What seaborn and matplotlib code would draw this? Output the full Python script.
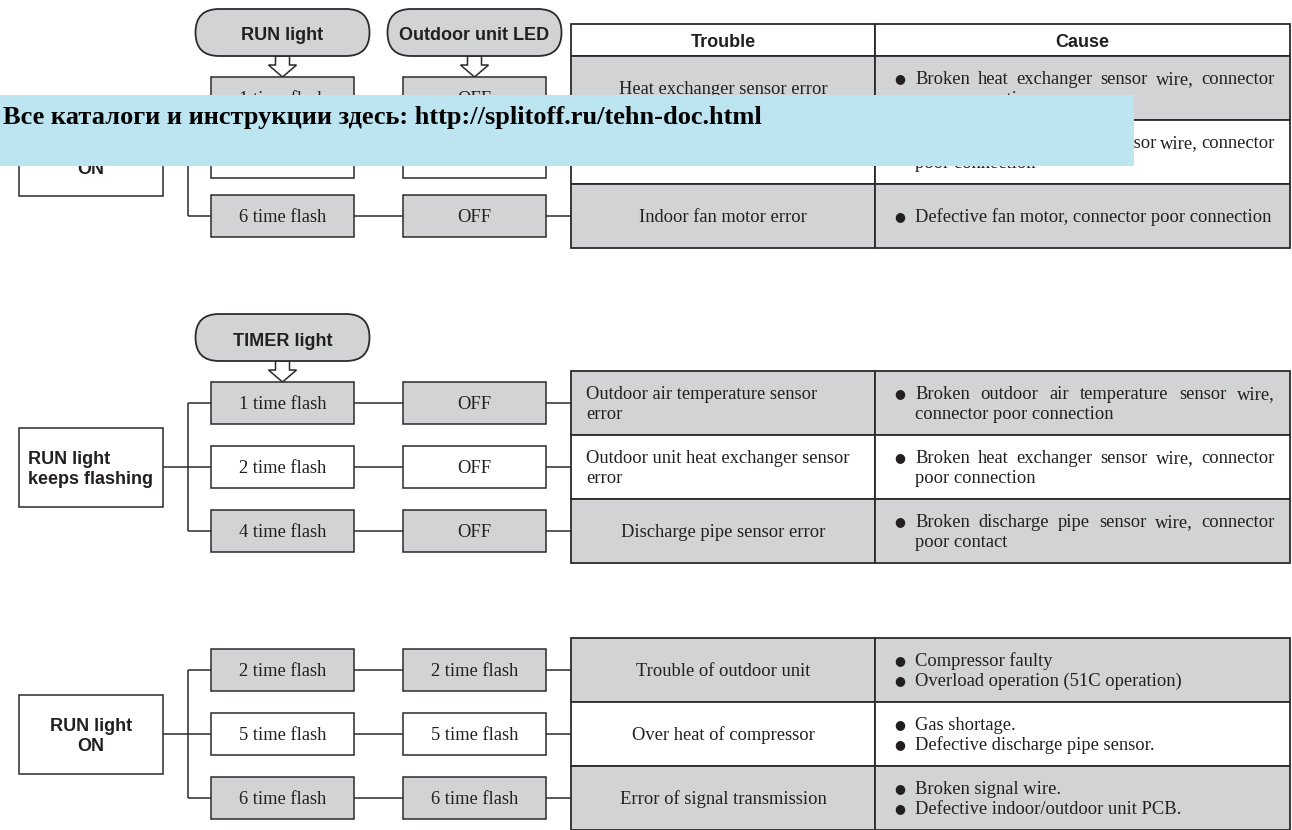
import matplotlib
matplotlib.use('Agg')
import matplotlib.pyplot as plt
from matplotlib.patches import Rectangle, FancyBboxPatch, Polygon
import seaborn as sns

sns.set_theme(style='white')
plt.rcParams['font.family'] = ['Liberation Serif', 'DejaVu Sans']

# ---- data ----
group_labels = ['RUN light\nON', 'RUN light\nkeeps flashing', 'RUN light\nON']
group_align = ['center', 'left', 'center']
pill_labels = [['RUN light', 'Outdoor unit LED'], ['TIMER light'], []]
col1_labels = [
    ['1 time flash', '2 time flash', '6 time flash'],
    ['1 time flash', '2 time flash', '4 time flash'],
    ['2 time flash', '5 time flash', '6 time flash'],
]
col2_labels = [
    ['OFF', 'OFF', 'OFF'],
    ['OFF', 'OFF', 'OFF'],
    ['2 time flash', '5 time flash', '6 time flash'],
]
header_labels = ['Trouble', 'Cause']
trouble_labels = [
    ['Heat exchanger sensor error', 'Room temperature sensor error', 'Indoor fan motor error'],
    ['Outdoor air temperature sensor\nerror', 'Outdoor unit heat exchanger sensor\nerror',
     'Discharge pipe sensor error'],
    ['Trouble of outdoor unit', 'Over heat of compressor', 'Error of signal transmission'],
]
trouble_align = [['center'] * 3, ['left', 'left', 'center'], ['center'] * 3]
cause_labels = [
    [[['Broken heat exchanger sensor wire, connector', 'poor connection']],
     [['Broken room temperature sensor wire, connector', 'poor connection']],
     [['Defective fan motor, connector poor connection']]],
    [[['Broken outdoor air temperature sensor wire,', 'connector poor connection']],
     [['Broken heat exchanger sensor wire, connector', 'poor connection']],
     [['Broken discharge pipe sensor wire, connector', 'poor contact']]],
    [[['Compressor faulty'], ['Overload operation (51C operation)']],
     [['Gas shortage.'], ['Defective discharge pipe sensor.']],
     [['Broken signal wire.'], ['Defective indoor/outdoor unit PCB.']]],
]
banner_text = 'Все каталоги и инструкции здесь: http://splitoff.ru/tehn-doc.html'

# ---- layout (pixels) ----
GRAY = '#d1d3d4'
EDGE = '#2b2b2b'
INK = '#231f20'
BANNER = '#bce4f1'
LW = 1.1
SERIF = 13.3
SANS = 13
SANS_FAM = ['Liberation Sans', 'DejaVu Sans']

box_rows = [[98, 157, 216], [403, 467, 531], [670, 734, 798]]
table_top = [56, 371, 638]
row_h = 64
header_top = 24
box_x = [211, 403]
box_w, box_h = 143, 42
left_x, left_w, left_h = 19, 144, 79
tree_x = 188
tab_x0, tab_xc, tab_x1 = 571, 875, 1290
pill_w, pill_h = 174, 47

fig = plt.figure(figsize=(12.92, 8.30), dpi=100)
ax = fig.add_axes([0, 0, 1, 1])
ax.set_xlim(0, 1292)
ax.set_ylim(830, 0)
ax.axis('off')
renderer = fig.canvas.get_renderer()


def rect(x, y, w, h, fc, lw=LW, z=2):
    ax.add_patch(Rectangle((x, y), w, h, facecolor=fc, edgecolor=EDGE, lw=lw, zorder=z))


def line(xs, ys):
    ax.plot(xs, ys, color=EDGE, lw=LW, zorder=1, solid_capstyle='butt')


def put_line(x, yc, s, justify_to=None, ha='left'):
    yb = yc + 6
    if justify_to is None:
        ax.text(x, yb, s, ha=ha, va='baseline', fontsize=SERIF, color=INK, zorder=5)
        return
    words = s.split()
    texts = [ax.text(0, yb, w, ha='left', va='baseline', fontsize=SERIF, color=INK, zorder=5)
             for w in words]
    widths = [t.get_window_extent(renderer).width for t in texts]
    gap = (justify_to - x - sum(widths)) / (len(words) - 1)
    cx = x
    for t, w in zip(texts, widths):
        t.set_x(cx)
        cx += w + gap


for s in range(3):
    rows = box_rows[s]
    fills = [GRAY, 'white', GRAY]

    # pills and arrows
    for k, lab in enumerate(pill_labels[s]):
        cx = box_x[k] + box_w / 2
        top = rows[0] - box_h / 2
        pb = top - 21
        ax.add_patch(FancyBboxPatch((cx - pill_w / 2, pb - pill_h), pill_w, pill_h,
                                    boxstyle='round,pad=0,rounding_size=23.5',
                                    facecolor=GRAY, edgecolor=EDGE, lw=1.3, zorder=3))
        ax.text(cx, pb - pill_h / 2 + 8, lab, ha='center', va='baseline', fontsize=SANS,
                fontweight='bold', family=SANS_FAM, color=INK, zorder=5)
        yh = pb + 9
        ax.add_patch(Polygon([(cx - 7, pb), (cx + 7, pb), (cx + 7, yh), (cx + 14, yh),
                              (cx, top), (cx - 14, yh), (cx - 7, yh)], closed=True,
                             facecolor='white', edgecolor=EDGE, lw=1.1, zorder=2))

    # left group box
    mid = rows[1]
    rect(left_x, mid - left_h / 2, left_w, left_h, 'white')
    gl = group_labels[s].split('\n')
    for j, t in enumerate(gl):
        if group_align[s] == 'center':
            ax.text(left_x + left_w / 2, mid - 10 + 20 * j + 6.5, t, ha='center', va='baseline',
                    fontsize=SANS, fontweight='bold', family=SANS_FAM, color=INK, zorder=5)
        else:
            ax.text(left_x + 9, mid - 10 + 20 * j + 6.5, t, ha='left', va='baseline',
                    fontsize=SANS, fontweight='bold', family=SANS_FAM, color=INK, zorder=5)

    # tree connectors
    line([left_x + left_w, tree_x], [mid, mid])
    line([tree_x, tree_x], [rows[0], rows[2]])
    for r, y in enumerate(rows):
        line([tree_x, box_x[0]], [y, y])
        line([box_x[0] + box_w, box_x[1]], [y, y])
        line([box_x[1] + box_w, tab_x0], [y, y])
        rect(box_x[0], y - box_h / 2, box_w, box_h, fills[r])
        rect(box_x[1], y - box_h / 2, box_w, box_h, fills[r])
        ax.text(box_x[0] + box_w / 2, y + 6, col1_labels[s][r], ha='center', va='baseline',
                fontsize=SERIF, color=INK, zorder=5)
        ax.text(box_x[1] + box_w / 2, y + 6, col2_labels[s][r], ha='center', va='baseline',
                fontsize=SERIF, color=INK, zorder=5)

    # table
    if s == 0:
        rect(tab_x0, header_top, tab_xc - tab_x0, table_top[0] - header_top, 'white', lw=1.3)
        rect(tab_xc, header_top, tab_x1 - tab_xc, table_top[0] - header_top, 'white', lw=1.3)
        hy = (header_top + table_top[0]) / 2 + 7
        for lab, (a, b) in zip(header_labels, [(tab_x0, tab_xc), (tab_xc, tab_x1)]):
            ax.text((a + b) / 2, hy, lab, ha='center', va='baseline', fontsize=SANS,
                    fontweight='bold', family=SANS_FAM, color=INK, zorder=5)
    for r in range(3):
        y0 = table_top[s] + r * row_h
        yc = y0 + row_h / 2
        rect(tab_x0, y0, tab_xc - tab_x0, row_h, fills[r], lw=1.3)
        rect(tab_xc, y0, tab_x1 - tab_xc, row_h, fills[r], lw=1.3)
        tl = trouble_labels[s][r].split('\n')
        for j, t in enumerate(tl):
            ly = yc + (j - (len(tl) - 1) / 2) * 20
            if trouble_align[s][r] == 'center':
                put_line((tab_x0 + tab_xc) / 2, ly, t, ha='center')
            else:
                put_line(tab_x0 + 15, ly, t, ha='left')
        bullets = cause_labels[s][r]
        nlines = sum(len(b) for b in bullets)
        k = 0
        for b in bullets:
            for j, t in enumerate(b):
                ly = yc + (k - (nlines - 1) / 2) * 20
                if j == 0:
                    ax.text(900, ly + 1, '\u25cf', ha='center', va='center', fontsize=9,
                            family=['DejaVu Sans'], color=INK, zorder=5)
                just = 1275 if j < len(b) - 1 else None
                put_line(915, ly, t, justify_to=just)
                k += 1

# watermark banner
ax.add_patch(Rectangle((0, 95), 1134, 71, facecolor=BANNER, edgecolor='none', zorder=10))
ax.text(3, 124, banner_text, ha='left', va='baseline', fontsize=19, fontweight='bold',
        color='black', zorder=11)

fig.savefig('out.png', dpi=100)
